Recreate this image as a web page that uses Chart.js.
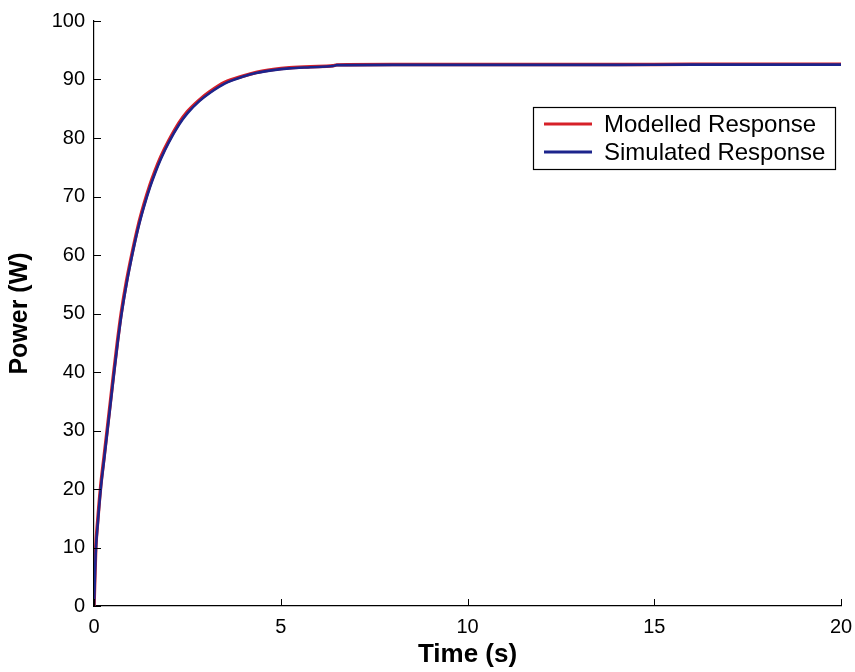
<!DOCTYPE html>
<html>
<head>
<meta charset="utf-8">
<script src="https://cdn.jsdelivr.net/npm/chart.js@4/dist/chart.umd.min.js"></script>
<style>
  html, body { margin: 0; padding: 0; background: #ffffff; }
  #wrap { width: 855px; height: 672px; position: relative; }
</style>
</head>
<body>
<div id="wrap"><canvas id="c" width="855" height="672"></canvas></div>
<script>
// ---- data ----
const timeSeconds = [0, 0.02, 0.045, 0.1, 0.18, 0.27, 0.36, 0.45, 0.54, 0.63, 0.73, 0.87, 1.03, 1.18, 1.34, 1.5, 1.63, 1.79, 2.0, 2.28, 2.5, 2.82, 3.1, 3.5, 4.0, 4.34, 4.8, 5.23, 5.8, 6.4, 6.5, 8, 10, 12, 14, 16, 18, 20];
const modelledPower = [0, 4.5, 9.6, 14.6, 20.5, 25.5, 30.5, 35.5, 40.5, 45.3, 50.1, 55.5, 60.6, 64.9, 68.7, 72.0, 74.3, 76.8, 79.5, 82.6, 84.5, 86.5, 87.9, 89.5, 90.6, 91.2, 91.7, 92.0, 92.2, 92.35, 92.5, 92.55, 92.55, 92.55, 92.55, 92.6, 92.6, 92.6];
const simulatedPower = [0, 4, 9, 14, 20, 25, 30, 35, 40, 44.8, 49.6, 55.0, 60.2, 64.5, 68.3, 71.6, 73.9, 76.4, 79.2, 82.3, 84.2, 86.3, 87.7, 89.3, 90.5, 91.1, 91.6, 91.9, 92.1, 92.3, 92.45, 92.5, 92.5, 92.5, 92.5, 92.55, 92.55, 92.55];
const seriesLabels = ['Modelled Response', 'Simulated Response'];
const xTickValues = [0, 5, 10, 15, 20];
const yTickValues = [0, 10, 20, 30, 40, 50, 60, 70, 80, 90, 100];

const FONT = "'Liberation Sans', Arial, Helvetica, sans-serif";
const RED = 'rgb(214,32,40)';
const BLUE = 'rgb(28,36,140)';

function toXY(xs, ys) { return xs.map((x, i) => ({ x: x, y: ys[i] })); }

// inward tick marks + boxed legend
const decorPlugin = {
  id: 'decor',
  afterDatasetsDraw(chart) {
    const ctx = chart.ctx;
    const xs = chart.scales.x, ys = chart.scales.y;
    const area = chart.chartArea;
    ctx.save();
    ctx.strokeStyle = '#000';
    ctx.lineWidth = 1;
    ctx.beginPath();
    xTickValues.forEach(v => {
      const px = Math.round(xs.getPixelForValue(v)) + 0.5;
      ctx.moveTo(px, area.bottom);
      ctx.lineTo(px, area.bottom - 7);
    });
    yTickValues.forEach(v => {
      const py = Math.round(ys.getPixelForValue(v)) + 0.5;
      ctx.moveTo(area.left, py);
      ctx.lineTo(area.left + 7, py);
    });
    ctx.stroke();

    // legend
    const lx = 533, ly = 107, lw = 302, lh = 62;
    ctx.fillStyle = '#fff';
    ctx.fillRect(lx, ly, lw, lh);
    ctx.strokeStyle = '#000';
    ctx.lineWidth = 1.2;
    ctx.strokeRect(lx + 0.5, ly + 0.5, lw, lh);
    ctx.font = '24px ' + FONT;
    ctx.textBaseline = 'middle';
    ctx.fillStyle = '#000';
    chart.data.datasets.forEach((ds, i) => {
      const y = ly + 17 + i * 28;
      ctx.strokeStyle = ds.borderColor;
      ctx.lineWidth = 3;
      ctx.beginPath();
      ctx.moveTo(lx + 11, y);
      ctx.lineTo(lx + 59, y);
      ctx.stroke();
      ctx.fillText(ds.label, lx + 71, y + 1);
    });
    ctx.restore();
  }
};

new Chart(document.getElementById('c'), {
  type: 'line',
  data: {
    datasets: [
      { label: seriesLabels[0], data: toXY(timeSeconds, modelledPower), borderColor: RED, backgroundColor: RED, borderWidth: 3.5, pointRadius: 0, cubicInterpolationMode: 'monotone', order: 1 },
      { label: seriesLabels[1], data: toXY(timeSeconds, simulatedPower), borderColor: BLUE, backgroundColor: BLUE, borderWidth: 2.6, pointRadius: 0, cubicInterpolationMode: 'monotone', order: 0 }
    ]
  },
  options: {
    responsive: false,
    animation: false,
    devicePixelRatio: 1,
    layout: { padding: { top: 19, right: 14, left: 0, bottom: 0 } },
    plugins: { legend: { display: false }, tooltip: { enabled: false } },
    scales: {
      x: {
        type: 'linear', min: 0, max: 20,
        afterFit(s) { s.height = 66; s.paddingRight = 0; s.paddingLeft = 0; },
        afterBuildTicks(s) { s.ticks = xTickValues.map(v => ({ value: v })); },
        grid: { display: true, drawOnChartArea: false, drawTicks: false, color: '#000', lineWidth: 1 },
        border: { display: true, color: '#000', width: 1.2 },
        ticks: { color: '#000', font: { family: FONT, size: 20 }, padding: 9, maxRotation: 0 },
        title: { display: true, text: 'Time (s)', color: '#000', font: { family: FONT, size: 26, weight: 'bold' }, padding: { top: 3, bottom: 2 } }
      },
      y: {
        type: 'linear', min: 0, max: 100,
        afterFit(s) { s.width = 94; },
        afterBuildTicks(s) { s.ticks = yTickValues.map(v => ({ value: v })); },
        grid: { display: true, drawOnChartArea: false, drawTicks: false, color: '#000', lineWidth: 1 },
        border: { display: true, color: '#000', width: 1.2 },
        ticks: { color: '#000', font: { family: FONT, size: 20 }, padding: 9 },
        title: { display: true, text: 'Power (W)', color: '#000', font: { family: FONT, size: 25, weight: 'bold' }, padding: { top: 5, bottom: 0 } }
      }
    }
  },
  plugins: [decorPlugin]
});
</script>
</body>
</html>
